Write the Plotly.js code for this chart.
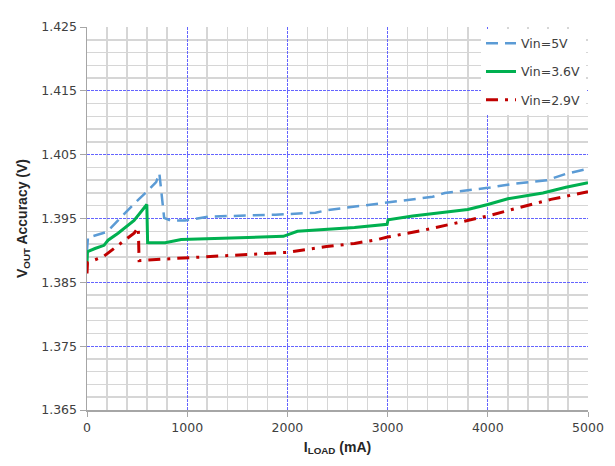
<!DOCTYPE html>
<html>
<head>
<meta charset="utf-8">
<script src="https://cdn.plot.ly/plotly-3.0.1.min.js"></script>
<style>
  html, body { margin: 0; padding: 0; background: #ffffff; }
  #chart { width: 615px; height: 466px; }
</style>
</head>
<body>
<div id="chart"></div>
<script>
// Load current (mA) and output voltage (V) for each input voltage
const seriesNames = ["Vin=5V", "Vin=3.6V", "Vin=2.9V"];

const vin5X = [0, 10, 50, 200, 310, 470, 610, 690, 722, 745, 770, 830, 980, 1220, 1490, 1880, 2280, 2390, 2590, 3000, 3250, 3450, 3570, 4000, 4240, 4590, 4780, 5000];
const vin5Y = [1.3900, 1.3921, 1.3922, 1.3929, 1.3947, 1.3973, 1.3994, 1.4007, 1.4021, 1.3984, 1.3951, 1.3947, 1.3947, 1.3953, 1.3954, 1.3956, 1.3959, 1.3963, 1.3967, 1.3975, 1.3980, 1.3984, 1.3990, 1.3998, 1.4004, 1.4010, 1.4020, 1.4028];

const vin36X = [0, 5, 80, 170, 210, 310, 470, 597, 605, 780, 940, 1180, 1610, 1960, 2100, 2470, 2670, 2995, 3005, 3250, 3800, 4000, 4200, 4550, 4780, 5000];
const vin36Y = [1.3880, 1.3898, 1.3903, 1.3908, 1.3916, 1.3927, 1.3947, 1.3972, 1.3912, 1.3912, 1.3917, 1.3918, 1.3920, 1.3922, 1.3930, 1.3934, 1.3936, 1.3941, 1.3948, 1.3954, 1.3964, 1.3972, 1.3981, 1.3990, 1.3999, 1.4006];

const vin29X = [0, 5, 160, 310, 470, 512, 520, 830, 1330, 2000, 2390, 2670, 2900, 3000, 3370, 3690, 4000, 4310, 4630, 5000];
const vin29Y = [1.3864, 1.3881, 1.3890, 1.3908, 1.3927, 1.3936, 1.3884, 1.3887, 1.3891, 1.3897, 1.3906, 1.3911, 1.3917, 1.3921, 1.3932, 1.3943, 1.3954, 1.3967, 1.3980, 1.3992];

// Axis ranges, major steps and minor subdivisions
const xRange = [0, 5000];
const yRange = [1.365, 1.425];
const xMajor = 1000, xSub = 5;
const yMajor = 0.01, ySub = 5;

// Minor grid positions between the major ones (majors themselves left out)
function minorVals(range, major, sub) {
  const out = [];
  const nMaj = Math.round((range[1] - range[0]) / major);
  for (let i = 0; i < nMaj; i++) {
    for (let j = 1; j < sub; j++) {
      out.push(+(range[0] + i * major + j * major / sub).toFixed(6));
    }
  }
  return out;
}

const FONT = "DejaVu Sans, Verdana, sans-serif";
const TITLE_FONT = "Liberation Sans, Arial, sans-serif";

const traces = [
  { x: vin5X, y: vin5Y, name: seriesNames[0], legendgroup: "a",
    line: { color: "#5B9BD5", width: 2.5, dash: "12px,7px" } },
  { x: vin36X, y: vin36Y, name: seriesNames[1], legendgroup: "b",
    line: { color: "#00B050", width: 3 } },
  { x: vin29X, y: vin29Y, name: seriesNames[2], legendgroup: "c",
    line: { color: "#C00000", width: 3, dash: "12px,7px,3px,7px" } }
].map(t => Object.assign({ type: "scatter", mode: "lines" }, t));

const gridMajor = { color: "#6464ff", width: 1, dash: "3px,1px" };
const gridMinor = { tickmode: "array", showgrid: true, gridcolor: "#d6d6d6", gridwidth: 1.5, griddash: "solid", ticks: "" };

const layout = {
  width: 615,
  height: 466,
  margin: { l: 87, r: 27, t: 27, b: 56 },
  paper_bgcolor: "#ffffff",
  plot_bgcolor: "#ffffff",
  font: { family: FONT, size: 12.5, color: "#404040" },
  showlegend: true,
  legend: {
    x: 0.996, xanchor: "right", y: 0.996, yanchor: "top",
    bgcolor: "#ffffff", borderwidth: 0,
    traceorder: "grouped", tracegroupgap: 9,
    font: { family: FONT, size: 12.5, color: "#404040" }
  },
  xaxis: {
    range: xRange,
    tickmode: "linear", tick0: xRange[0], dtick: xMajor,
    showgrid: true, gridcolor: gridMajor.color, gridwidth: gridMajor.width, griddash: gridMajor.dash,
    minor: Object.assign({}, gridMinor, { tickvals: minorVals(xRange, xMajor, xSub) }),
    zeroline: false,
    showline: true, linecolor: "#a6a6a6", linewidth: 1.5,
    ticks: "outside", ticklen: 5, tickcolor: "#a6a6a6",
    tickfont: { family: FONT, size: 12.5, color: "#404040" },
    title: { text: "<b>I<sub>LOAD</sub> (mA)</b>", standoff: 8,
             font: { family: TITLE_FONT, size: 14, color: "#262626" } }
  },
  yaxis: {
    range: yRange,
    tickmode: "linear", tick0: yRange[0], dtick: yMajor, tickformat: ".3f",
    showgrid: true, gridcolor: gridMajor.color, gridwidth: gridMajor.width, griddash: gridMajor.dash,
    minor: Object.assign({}, gridMinor, { tickvals: minorVals(yRange, yMajor, ySub) }),
    zeroline: false,
    showline: true, linecolor: "#a6a6a6", linewidth: 1.5,
    ticks: "outside", ticklen: 6, tickcolor: "#a6a6a6",
    tickfont: { family: FONT, size: 12.5, color: "#404040" },
    title: { text: "<b>V<sub>OUT</sub> Accuracy (V)</b>", standoff: 10,
             font: { family: TITLE_FONT, size: 14, color: "#262626" } }
  }
};

Plotly.newPlot("chart", traces, layout, { staticPlot: true, displayModeBar: false });
</script>
</body>
</html>
